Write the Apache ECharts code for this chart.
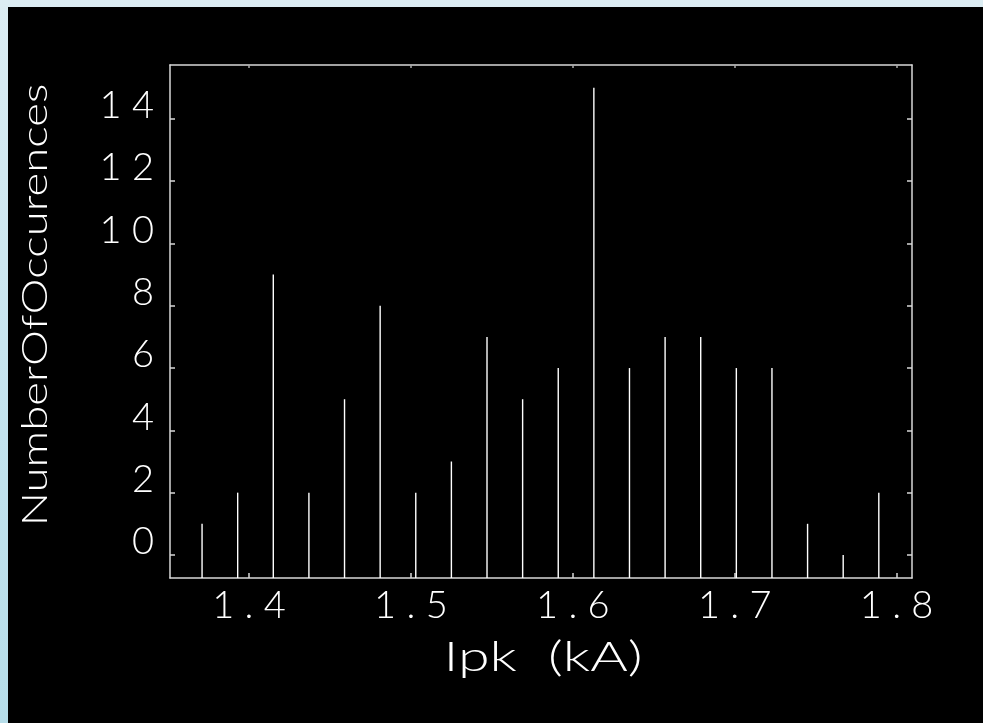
<!DOCTYPE html>
<html>
<head>
<meta charset="utf-8">
<title>Ipk histogram</title>
<script src="https://cdn.jsdelivr.net/npm/echarts@6/dist/echarts.min.js"></script>
<style>
  html, body { margin: 0; padding: 0; width: 983px; height: 723px; overflow: hidden;
    background: linear-gradient(to bottom, #dcedf3 0%, #c3e3ee 60%, #b6dde9 100%); }
  #chart { position: absolute; left: 8px; top: 7px; width: 975px; height: 716px; }
</style>
</head>
<body>
<div id="chart"></div>
<script>
// Peak current bins (kA) and how many times each occurred
const ipk = [1.371, 1.393, 1.415, 1.437, 1.459, 1.481, 1.503, 1.525, 1.547, 1.569,
             1.591, 1.613, 1.635, 1.657, 1.679, 1.701, 1.723, 1.745, 1.767, 1.789];
const occurrences = [1, 2, 9, 2, 5, 8, 2, 3, 7, 5, 6, 15, 6, 7, 7, 6, 6, 1, 0, 2];

// Axis ranges and tick positions
const xRange = [1.3512, 1.8095];
const yRange = [-0.74, 15.73];
const xTicks = [1.4, 1.5, 1.6, 1.7, 1.8];
const yTicks = [0, 2, 4, 6, 8, 10, 12, 14];

const xTitle = 'Ipk  (kA)';
const yTitle = 'NumberOfOccurences';

const FONT = 'Lato, "DejaVu Sans", sans-serif';
const AXIS_COLOR = '#d8d8d8';

// spread characters apart, like the plotting package's stroke font
const spread = s => String(s).split('').join(' ');

const chart = echarts.init(document.getElementById('chart'));

const axisCommon = {
  type: 'value',
  axisLine: { show: true, onZero: false, lineStyle: { color: AXIS_COLOR, width: 1.5 } },
  splitLine: { show: false }
};

chart.setOption({
  backgroundColor: '#000000',
  animation: false,
  grid: { left: 162, top: 58, right: 71, bottom: 145 },
  xAxis: [
    Object.assign({}, axisCommon, {
      position: 'bottom', min: xRange[0], max: xRange[1],
      axisTick: { show: true, inside: true, length: 5, customValues: xTicks,
                  lineStyle: { color: AXIS_COLOR, width: 1.5 } },
      axisLabel: { show: true, customValues: xTicks, margin: 13,
                   color: '#ffffff', fontFamily: FONT, fontWeight: 300, fontSize: 38,
                   lineHeight: 30,
                   formatter: v => spread(v.toFixed(1)) }
    }),
    Object.assign({}, axisCommon, {
      position: 'top', min: xRange[0], max: xRange[1],
      axisTick: { show: true, inside: true, length: 3, customValues: xTicks,
                  lineStyle: { color: '#aaaaaa', width: 1.5 } },
      axisLabel: { show: false }
    })
  ],
  yAxis: [
    Object.assign({}, axisCommon, {
      position: 'left', min: yRange[0], max: yRange[1],
      axisTick: { show: true, inside: true, length: 5, customValues: yTicks,
                  lineStyle: { color: AXIS_COLOR, width: 1.5 } },
      axisLabel: { show: true, customValues: yTicks, margin: 16,
                   color: '#ffffff', fontFamily: FONT, fontWeight: 300, fontSize: 38,
                   verticalAlign: 'bottom', lineHeight: 26,
                   formatter: v => spread(v) }
    }),
    Object.assign({}, axisCommon, {
      position: 'right', min: yRange[0], max: yRange[1],
      axisTick: { show: true, inside: true, length: 5, customValues: yTicks,
                  lineStyle: { color: AXIS_COLOR, width: 1.5 } },
      axisLabel: { show: false }
    })
  ],
  graphic: [
    {
      // wide, stretched lettering for the axis titles
      type: 'text', x: 28, y: 298, rotation: Math.PI / 2, scaleX: 1.3,
      style: { text: yTitle, fill: '#ffffff', font: '300 35px ' + FONT,
               align: 'center', verticalAlign: 'middle' }
    },
    {
      type: 'text', x: 535, y: 651, scaleX: 1.4,
      style: { text: xTitle, fill: '#ffffff', font: '300 41px ' + FONT,
               align: 'center', verticalAlign: 'middle' }
    }
  ],
  series: [{
    type: 'custom',
    xAxisIndex: 0, yAxisIndex: 0,
    data: ipk.map((x, i) => [x, occurrences[i]]),
    // each bin is a thin vertical spike rising from the bottom of the frame
    renderItem: (params, api) => {
      const x = api.value(0);
      const base = api.coord([x, yRange[0]]);
      const top = api.coord([x, api.value(1)]);
      return {
        type: 'line',
        shape: { x1: base[0], y1: base[1], x2: top[0], y2: top[1] },
        style: { stroke: '#ffffff', lineWidth: 1.4 }
      };
    }
  }]
});
</script>
</body>
</html>
